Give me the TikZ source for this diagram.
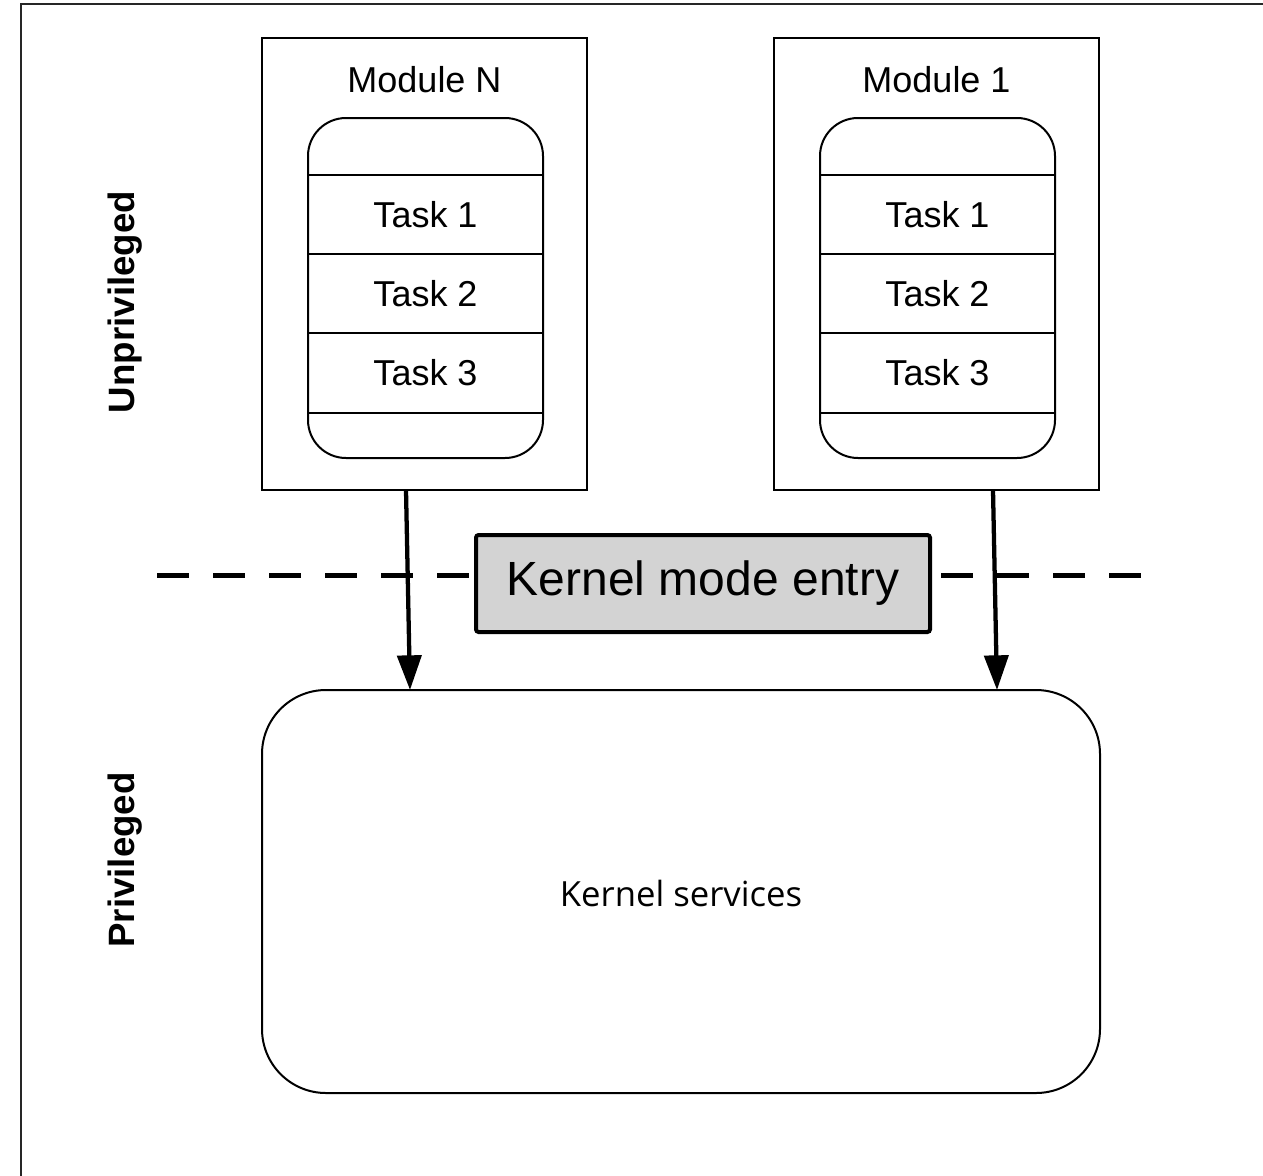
\documentclass[tikz,border=0pt]{standalone}
\usepackage{fontspec}
\setmainfont{Liberation Sans}
\newfontfamily\servicefont{Open Sans}
\usetikzlibrary{arrows.meta,calc}
\definecolor{gatefill}{HTML}{D3D3D3}
\begin{document}
\begin{tikzpicture}[x=0.75pt,y=-0.75pt,
  every node/.style={inner sep=0pt, outer sep=0pt},
  modbox/.style={draw, line width=1.1pt, minimum width=243.75pt, minimum height=339pt},
  taskstack/.style={draw, line width=1.5pt, rounded corners=28.5pt, minimum width=176.25pt, minimum height=255pt},
  rowline/.style={line width=1.5pt},
  lbl/.style={font=\fontsize{27}{30}\selectfont},
  side/.style={font=\bfseries\fontsize{27.5}{30}\selectfont, rotate=90},
  arr/.style={line width=3.2pt, -{Triangle[length=26pt, width=18pt]}},
  gate/.style={draw, line width=3pt, fill=gatefill, rounded corners=2pt, minimum width=340.5pt, minimum height=72.75pt, font=\fontsize{36}{40}\selectfont},
  kern/.style={draw, line width=1.5pt, rounded corners=48pt, minimum width=628.5pt, minimum height=302.25pt},
  boundary/.style={line width=3.75pt, dash pattern=on 24pt off 18pt},
  frame/.style={line width=1.6pt, draw=black!85}
]
\useasboundingbox (0,0) rectangle (1263,1175);

% outer frame (only top and left edges fall inside the page)
\coordinate (fBL) at (21,1185);
\coordinate (fTL) at (21,4);
\coordinate (fTR) at (1275,4);
\draw[frame] (fBL) -- (fTL) -- (fTR);

% mode labels
\node[side] (unpriv) at (125,302) {Unprivileged};
\node[side] (priv) at (125,860) {Privileged};

% privilege boundary
\coordinate (bL) at (157,575);
\coordinate (bR) at (1141,575);
\draw[boundary] (bL) -- (bR);

% modules
\foreach \m/\cx/\title in {modN/424.5/Module N, modA/936.5/Module 1}{
  \node[modbox] (\m) at (\cx,264) {};
  \node[lbl] (\m-title) at (\cx,80) {\title};
  \node[taskstack] (\m-stack) at (\cx+1,288) {};
  \foreach \yy in {175,254,333,413}{
    \draw[rowline] (\m-stack.west |- 0,\yy) -- (\m-stack.east |- 0,\yy);
  }
  \node[lbl] (\m-t1) at (\cx+1,215) {Task 1};
  \node[lbl] (\m-t2) at (\cx+1,294) {Task 2};
  \node[lbl] (\m-t3) at (\cx+1,373) {Task 3};
}

% kernel entry gate
\node[gate] (gate) at (703,583.5) {Kernel mode entry};

% kernel services
\node[kern] (kern) at (681,891.5) {};
\node[font=\servicefont\fontsize{26}{30}\selectfont] (kern-label) at (681,893) {Kernel services};

% system calls into the kernel
\draw[arr] ($(modN.south)+(-18.5,0)$) -- ($(kern.north west)+(148,0)$);
\draw[arr] ($(modA.south)+(56.5,0)$) -- ($(kern.north west)+(735,0)$);
\end{tikzpicture}
\end{document}
